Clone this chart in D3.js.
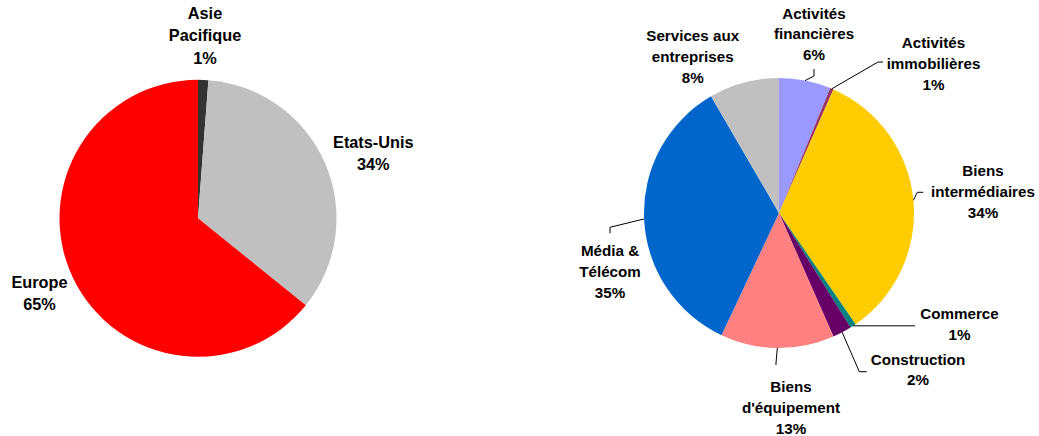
<!DOCTYPE html>
<html><head><meta charset="utf-8">
<script src="https://cdn.jsdelivr.net/npm/d3@7/dist/d3.min.js"></script>
<style>
html,body{margin:0;padding:0;background:#fff;}
svg{display:block;}
text{font-family:"Liberation Sans",Arial,sans-serif;font-weight:bold;fill:#000;}
</style></head>
<body>
<svg id="c" width="1039" height="436"></svg>
<script>
// ---- Data: left pie (geography) ----
const geoCategories = ["Asie Pacifique", "Etats-Unis", "Europe"];
const geoValues = [1.2, 34.6, 64.2];
const geoLabels = [["Asie", "Pacifique", "1%"], ["Etats-Unis", "34%"], ["Europe", "65%"]];
const geoColors = ["#333333", "#C0C0C0", "#FF0000"];

// ---- Data: right pie (sectors) ----
const secCategories = ["Activités financières", "Activités immobilières", "Biens intermédiaires", "Commerce",
  "Construction", "Biens d'équipement", "Média & Télécom", "Services aux entreprises"];
const secValues = [6.2, 0.4, 33.8, 0.7, 2.3, 13.6, 34.6, 8.4];
const secLabels = [["Activités", "financières", "6%"], ["Activités", "immobilières", "1%"],
  ["Biens", "intermédiaires", "34%"], ["Commerce", "1%"], ["Construction", "2%"],
  ["Biens", "d'équipement", "13%"], ["Média &", "Télécom", "35%"], ["Services aux", "entreprises", "8%"]];
const secColors = ["#9999FF", "#993366", "#FFCC00", "#008080", "#660066", "#FF8080", "#0066CC", "#C0C0C0"];

// ---- Layout (not data) ----
const geoLayout = { cx: 198, cy: 218.3, r: 138.5, fs: 16.3, lh: 22.2,
  labels: [[205, 19.1], [373.3, 147.5], [39.5, 287.5]] };
const secLayout = { cx: 779, cy: 213, r: 135, fs: 15.2, lh: 20.7,
  labels: [[814, 18.7], [933.5, 48.1], [983, 176.1], [959.5, 319.4], [918, 364.7], [791, 392.1], [610, 256.1], [692.7, 41.4]],
  // leader line bend points after the slice edge point (null = no leader)
  leaders: [[[814, 76], [814, 69]], [[878, 62], [883, 62]], [[917.3, 192.3], [923.3, 192.3]],
    [[915, null]], [[859.3, 371.7], [866.7, 371.7]], [[776, 363], [776, 365]],
    [[610, 227.3], [610, 233.3]], null] };

const svg = d3.select("#c");

function drawPie(values, colors, labels, L) {
  const pie = d3.pie().sort(null).value(d => d).startAngle(0).endAngle(2 * Math.PI);
  const arcs = pie(values);
  const arc = d3.arc().innerRadius(0).outerRadius(L.r);
  const g = svg.append("g").attr("transform", `translate(${L.cx},${L.cy})`);
  g.selectAll("path").data(arcs).join("path")
    .attr("d", arc).attr("fill", (d, i) => colors[i]);

  if (L.leaders) {
    arcs.forEach((a, i) => {
      const pts = L.leaders[i];
      if (!pts) return;
      const m = (a.startAngle + a.endAngle) / 2;
      const sx = L.cx + L.r * Math.sin(m), sy = L.cy - L.r * Math.cos(m);
      const all = [[sx, sy]].concat(pts.map(p => [p[0], p[1] == null ? sy : p[1]]));
      svg.append("path").attr("d", d3.line()(all))
        .attr("fill", "none").attr("stroke", "#000").attr("stroke-width", 1);
    });
  }

  labels.forEach((lines, i) => {
    const [x, y] = L.labels[i];
    const t = svg.append("text").attr("text-anchor", "middle").attr("font-size", L.fs);
    lines.forEach((s, k) => t.append("tspan").attr("x", x).attr("y", y + k * L.lh).text(s));
  });
}

drawPie(geoValues, geoColors, geoLabels, geoLayout);
drawPie(secValues, secColors, secLabels, secLayout);
</script>
</body></html>
